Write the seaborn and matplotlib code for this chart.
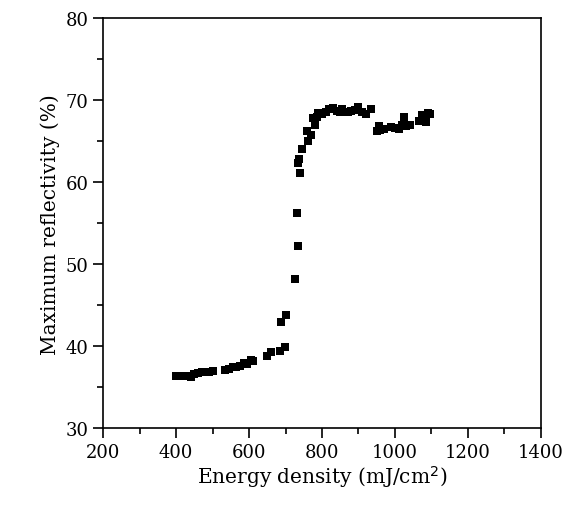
import matplotlib
matplotlib.use("Agg")
import matplotlib.pyplot as plt
from matplotlib.ticker import MultipleLocator
import pandas as pd
import seaborn as sns

# energy density (mJ/cm^2) and maximum reflectivity (%)
energy = [400, 410, 420, 430, 440, 450, 460, 470, 480, 490, 500,
          535, 545, 555, 565, 575, 585, 595, 605, 610,
          650, 660, 685, 698, 688, 700,
          725, 733, 731,
          740, 735, 738, 745,
          762, 760, 770, 775,
          780, 785, 790, 800, 810, 820, 830, 840, 850, 855, 870, 880, 890,
          900, 910, 920, 935,
          950, 955, 960, 970, 990, 1000, 1010, 1020, 1025, 1030, 1040,
          1065, 1075, 1085, 1090, 1095]
reflectivity = [36.3, 36.3, 36.3, 36.4, 36.2, 36.6, 36.7, 36.8, 36.9, 36.9, 37.0,
                37.1, 37.2, 37.4, 37.5, 37.6, 37.9, 37.8, 38.3, 38.2,
                38.8, 39.3, 39.4, 39.9, 43.0, 43.8,
                48.2, 52.2, 56.2,
                61.1, 62.3, 62.8, 64.0,
                65.0, 66.2, 65.8, 67.8,
                67.0, 68.0, 68.4, 68.3, 68.5, 68.9, 69.0, 68.7, 68.5, 68.9, 68.6, 68.7, 68.8,
                69.2, 68.6, 68.3, 68.9,
                66.3, 66.8, 66.4, 66.5, 66.7, 66.6, 66.5, 67.0, 67.9, 66.9, 67.0,
                67.5, 68.2, 67.4, 68.4, 68.3]

df = pd.DataFrame({"energy": energy, "reflectivity": reflectivity})

sns.set_style("white")
plt.rcParams["font.family"] = ["DejaVu Serif"]

fig = plt.figure(figsize=(5.76, 5.06), dpi=100)
ax = fig.add_axes([0.179, 0.152, 0.760, 0.810])

sns.scatterplot(data=df, x="energy", y="reflectivity", marker="s", s=28,
                color="black", edgecolor="black", linewidth=0, ax=ax)

ax.set_xlim(200, 1400)
ax.set_ylim(30, 80)
ax.xaxis.set_major_locator(MultipleLocator(200))
ax.xaxis.set_minor_locator(MultipleLocator(100))
ax.yaxis.set_major_locator(MultipleLocator(10))
ax.yaxis.set_minor_locator(MultipleLocator(5))
ax.tick_params(which="both", direction="out", bottom=True, left=True,
               top=False, right=False, color="black", labelcolor="black",
               width=1.2, labelsize=13)
ax.tick_params(which="major", length=7)
ax.tick_params(which="minor", length=4)
for sp in ax.spines.values():
    sp.set_color("black")
    sp.set_linewidth(1.2)

ax.set_xlabel("Energy density (mJ/cm$^2$)", fontsize=14.5, color="black", labelpad=2)
ax.set_ylabel("Maximum reflectivity (%)", fontsize=14.5, color="black")

fig.savefig("out.png", dpi=100)
